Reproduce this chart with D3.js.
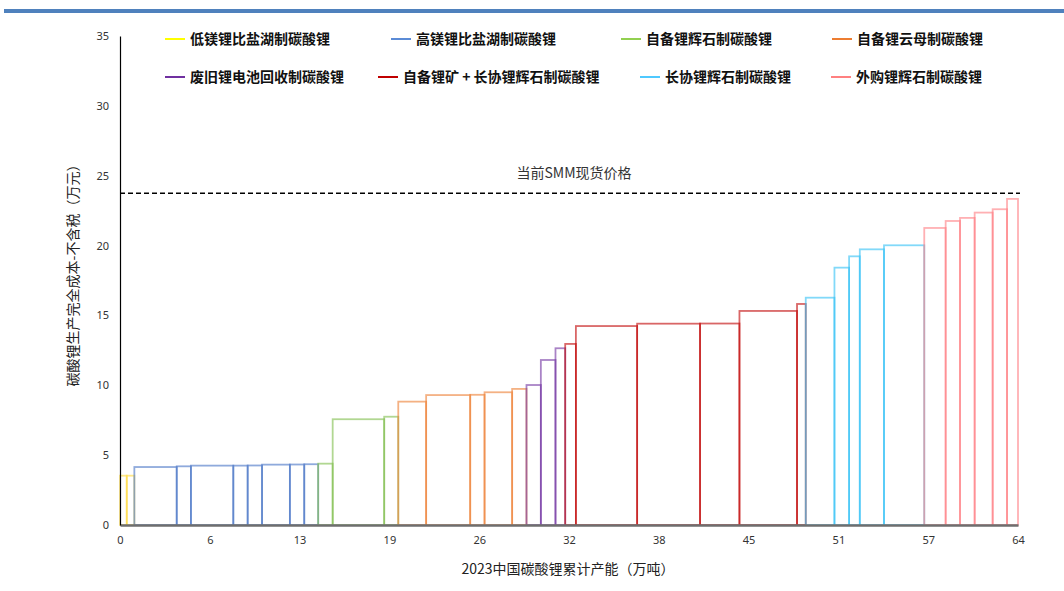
<!DOCTYPE html>
<html>
<head>
<meta charset="utf-8">
<script src="https://cdn.jsdelivr.net/npm/d3@7"></script>
<style>
  html, body { margin: 0; padding: 0; background: #fff; }
  svg { display: block; font-family: "Noto Sans CJK SC", "Noto Sans", sans-serif; }
</style>
</head>
<body>
<svg id="chart" width="1064" height="591"></svg>
<script>
// ---- data ----
const categories = ["低镁锂比盐湖制碳酸锂", "高镁锂比盐湖制碳酸锂", "自备锂辉石制碳酸锂", "自备锂云母制碳酸锂",
  "废旧锂电池回收制碳酸锂", "自备锂矿 + 长协锂辉石制碳酸锂", "长协锂辉石制碳酸锂", "外购锂辉石制碳酸锂"];
const colors = ["#ffd83a", "#4472c4", "#7dbd4a", "#ed7d31", "#7030a0", "#c00000", "#2ec0f5", "#ff7c80"];
const legendColors = ["#ffff00", "#5b8bd6", "#92d050", "#ed7d31", "#7030a0", "#c00000", "#4fc9ff", "#ff8080"];
// capacity (万吨) of each producer block, by category
const capacities = [
  [0.48, 0.54],
  [3.01, 1.01, 3.01, 1.02, 1.02, 1.98, 1.02, 0.99],
  [1.03, 3.66, 1.00],
  [1.98, 3.13, 1.02, 1.96, 1.02],
  [1.02, 1.04, 0.69],
  [0.76, 4.35, 4.47, 2.80, 4.09, 0.62],
  [2.04, 1.04, 0.76, 1.72, 2.86],
  [1.52, 1.02, 1.04, 1.28, 1.02, 0.78]
];
// full cost excl. tax (万元) of each block
const costs = [
  [3.53, 3.53],
  [4.15, 4.20, 4.25, 4.25, 4.26, 4.32, 4.33, 4.35],
  [4.39, 7.57, 7.75],
  [8.83, 9.30, 9.32, 9.50, 9.74],
  [10.02, 11.81, 12.65],
  [12.96, 14.24, 14.41, 14.42, 15.32, 15.82],
  [16.27, 18.42, 19.23, 19.73, 20.02],
  [21.26, 21.76, 21.98, 22.36, 22.60, 23.34]
];
const spotPrice = 23.75;
const spotLabel = "当前SMM现货价格";
const xTickLabels = ["0", "6", "13", "19", "26", "32", "38", "45", "51", "57", "64"];
const yTickValues = [0, 5, 10, 15, 20, 25, 30, 35];
const xTitle = "2023中国碳酸锂累计产能（万吨）";
const yTitle = "碳酸锂生产完全成本-不含税（万元）";

(function () {
  // ---- build blocks ----
  const blocks = [];
  let cum = 0;
  capacities.forEach((arr, ci) => {
    arr.forEach((w, i) => {
      blocks.push({ cat: ci, x0: cum, x1: cum + w, cost: costs[ci][i] });
      cum += w;
    });
  });
  const total = cum;

  const svg = d3.select("#chart");
  const mLeft = 120, mRight = 1018, mTop = 36, mBottom = 525;

  // top banner line
  svg.append("rect").attr("x", 4).attr("y", 9).attr("width", 1060).attr("height", 4).attr("fill", "#4f81bd");

  const x = d3.scaleLinear().domain([0, total]).range([mLeft, mRight]);
  const y = d3.scaleLinear().domain([0, 35]).range([mBottom, mTop]);

  // bars
  svg.append("g").selectAll("rect").data(blocks).join("rect")
    .attr("x", d => x(d.x0))
    .attr("y", d => y(d.cost))
    .attr("width", d => x(d.x1) - x(d.x0))
    .attr("height", d => y(0) - y(d.cost))
    .attr("fill", "none")
    .attr("stroke", d => colors[d.cat])
    .attr("stroke-width", 1.8)
    .attr("stroke-opacity", 0.6);

  // x axis
  const xTickVals = xTickLabels.map((_, i) => total * i / 10);
  const xAxis = d3.axisBottom(x).tickValues(xTickVals).tickSize(0).tickPadding(11)
    .tickFormat((d, i) => xTickLabels[i]);
  const gx = svg.append("g").attr("transform", `translate(0,${mBottom})`).call(xAxis);
  gx.select(".domain").attr("stroke", "#6e6e6e").attr("stroke-width", 2.4);
  gx.selectAll("text").attr("font-size", 11).attr("fill", "#333").attr("font-family", "'Noto Sans', sans-serif");

  // y axis
  const yAxis = d3.axisLeft(y).tickValues(yTickValues).tickSize(0).tickPadding(11);
  const gy = svg.append("g").attr("transform", `translate(${mLeft},0)`).call(yAxis);
  gy.select(".domain").attr("stroke", "#000").attr("stroke-width", 1.2);
  gy.selectAll("text").attr("font-size", 11).attr("fill", "#333").attr("font-family", "'Noto Sans', sans-serif");

  // spot price dashed line
  svg.append("line")
    .attr("x1", mLeft).attr("x2", mRight + 2)
    .attr("y1", y(spotPrice)).attr("y2", y(spotPrice))
    .attr("stroke", "#000").attr("stroke-width", 1.6).attr("stroke-dasharray", "5,3");
  svg.append("text").attr("x", 574).attr("y", y(spotPrice) - 15)
    .attr("text-anchor", "middle").attr("font-size", 14).attr("fill", "#333").text(spotLabel);

  // axis titles
  svg.append("text").attr("x", 568).attr("y", 574).attr("text-anchor", "middle")
    .attr("font-size", 14).attr("fill", "#222").text(xTitle);
  svg.append("text").attr("transform", `translate(78,272) rotate(-90)`).attr("text-anchor", "middle")
    .attr("font-size", 14).attr("fill", "#222").text(yTitle);

  // legend
  const legendPos = [
    [165, 39], [391, 39], [621, 39], [832, 39],
    [165, 77], [378, 77], [640, 77], [831, 77]
  ];
  const lg = svg.append("g").selectAll("g").data(categories).join("g")
    .attr("transform", (d, i) => `translate(${legendPos[i][0]},${legendPos[i][1]})`);
  lg.append("line").attr("x1", 0).attr("x2", 20).attr("y1", 0).attr("y2", 0)
    .attr("stroke", (d, i) => legendColors[i]).attr("stroke-width", 2);
  lg.append("text").attr("x", 25).attr("y", 0).attr("dy", "0.35em")
    .attr("font-size", 14).attr("font-weight", "bold").attr("fill", "#111").text(d => d);
})();
</script>
</body>
</html>
